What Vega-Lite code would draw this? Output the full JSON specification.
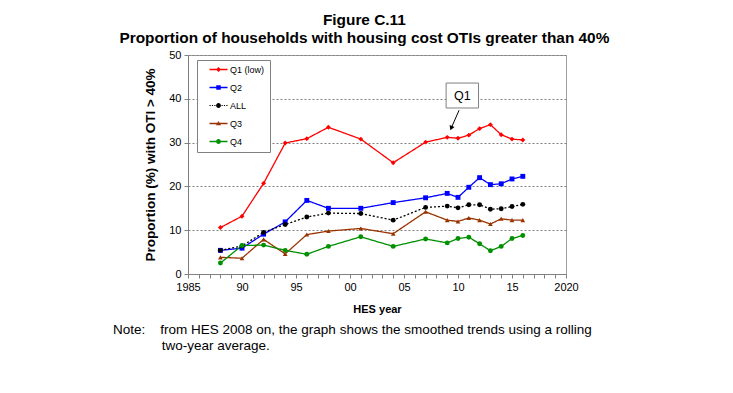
{
  "$schema": "https://vega.github.io/schema/vega-lite/v6.json",
  "background": "white",
  "padding": {"left": 112, "top": 13, "right": 5, "bottom": 5},
  "title": {
    "text": ["Figure C.11", "Proportion of households with housing cost OTIs greater than 40%"],
    "fontSize": 15.4,
    "fontWeight": "bold",
    "font": "Liberation Sans",
    "color": "#000000",
    "lineHeight": 18,
    "anchor": "middle",
    "offset": 2,
    "dx": 12
  },
  "datasets": {
    "series": [
      {"year": 1988, "series": "Q1 (low)", "value": 10.6},
      {"year": 1990, "series": "Q1 (low)", "value": 13.2},
      {"year": 1992, "series": "Q1 (low)", "value": 20.7},
      {"year": 1994, "series": "Q1 (low)", "value": 29.9},
      {"year": 1996, "series": "Q1 (low)", "value": 30.9},
      {"year": 1998, "series": "Q1 (low)", "value": 33.5},
      {"year": 2001, "series": "Q1 (low)", "value": 30.8},
      {"year": 2004, "series": "Q1 (low)", "value": 25.4},
      {"year": 2007, "series": "Q1 (low)", "value": 30.1},
      {"year": 2009, "series": "Q1 (low)", "value": 31.2},
      {"year": 2010, "series": "Q1 (low)", "value": 31.0},
      {"year": 2011, "series": "Q1 (low)", "value": 31.7},
      {"year": 2012, "series": "Q1 (low)", "value": 33.2},
      {"year": 2013, "series": "Q1 (low)", "value": 34.1},
      {"year": 2014, "series": "Q1 (low)", "value": 31.8},
      {"year": 2015, "series": "Q1 (low)", "value": 30.8},
      {"year": 2016, "series": "Q1 (low)", "value": 30.6},
      {"year": 1988, "series": "Q2", "value": 5.4},
      {"year": 1990, "series": "Q2", "value": 5.9},
      {"year": 1992, "series": "Q2", "value": 9.1},
      {"year": 1994, "series": "Q2", "value": 11.9},
      {"year": 1996, "series": "Q2", "value": 16.8},
      {"year": 1998, "series": "Q2", "value": 15.0},
      {"year": 2001, "series": "Q2", "value": 15.0},
      {"year": 2004, "series": "Q2", "value": 16.3},
      {"year": 2007, "series": "Q2", "value": 17.4},
      {"year": 2009, "series": "Q2", "value": 18.4},
      {"year": 2010, "series": "Q2", "value": 17.5},
      {"year": 2011, "series": "Q2", "value": 19.8},
      {"year": 2012, "series": "Q2", "value": 22.0},
      {"year": 2013, "series": "Q2", "value": 20.4},
      {"year": 2014, "series": "Q2", "value": 20.6},
      {"year": 2015, "series": "Q2", "value": 21.7},
      {"year": 2016, "series": "Q2", "value": 22.3},
      {"year": 1988, "series": "ALL", "value": 5.4},
      {"year": 1990, "series": "ALL", "value": 6.4},
      {"year": 1992, "series": "ALL", "value": 9.5},
      {"year": 1994, "series": "ALL", "value": 11.3},
      {"year": 1996, "series": "ALL", "value": 13.0},
      {"year": 1998, "series": "ALL", "value": 13.9},
      {"year": 2001, "series": "ALL", "value": 13.8},
      {"year": 2004, "series": "ALL", "value": 12.3},
      {"year": 2007, "series": "ALL", "value": 15.2},
      {"year": 2009, "series": "ALL", "value": 15.5},
      {"year": 2010, "series": "ALL", "value": 15.1},
      {"year": 2011, "series": "ALL", "value": 15.8},
      {"year": 2012, "series": "ALL", "value": 15.8},
      {"year": 2013, "series": "ALL", "value": 14.8},
      {"year": 2014, "series": "ALL", "value": 14.9},
      {"year": 2015, "series": "ALL", "value": 15.4},
      {"year": 2016, "series": "ALL", "value": 15.9},
      {"year": 1988, "series": "Q3", "value": 3.8},
      {"year": 1990, "series": "Q3", "value": 3.6},
      {"year": 1992, "series": "Q3", "value": 7.9},
      {"year": 1994, "series": "Q3", "value": 4.6},
      {"year": 1996, "series": "Q3", "value": 9.0},
      {"year": 1998, "series": "Q3", "value": 9.8},
      {"year": 2001, "series": "Q3", "value": 10.4},
      {"year": 2004, "series": "Q3", "value": 9.2},
      {"year": 2007, "series": "Q3", "value": 14.2},
      {"year": 2009, "series": "Q3", "value": 12.3},
      {"year": 2010, "series": "Q3", "value": 12.0},
      {"year": 2011, "series": "Q3", "value": 12.8},
      {"year": 2012, "series": "Q3", "value": 12.3},
      {"year": 2013, "series": "Q3", "value": 11.4},
      {"year": 2014, "series": "Q3", "value": 12.6},
      {"year": 2015, "series": "Q3", "value": 12.3},
      {"year": 2016, "series": "Q3", "value": 12.3},
      {"year": 1988, "series": "Q4", "value": 2.5},
      {"year": 1990, "series": "Q4", "value": 6.5},
      {"year": 1992, "series": "Q4", "value": 6.6},
      {"year": 1994, "series": "Q4", "value": 5.4},
      {"year": 1996, "series": "Q4", "value": 4.5},
      {"year": 1998, "series": "Q4", "value": 6.3},
      {"year": 2001, "series": "Q4", "value": 8.5},
      {"year": 2004, "series": "Q4", "value": 6.3},
      {"year": 2007, "series": "Q4", "value": 8.0},
      {"year": 2009, "series": "Q4", "value": 7.1},
      {"year": 2010, "series": "Q4", "value": 8.1},
      {"year": 2011, "series": "Q4", "value": 8.4},
      {"year": 2012, "series": "Q4", "value": 6.9},
      {"year": 2013, "series": "Q4", "value": 5.3},
      {"year": 2014, "series": "Q4", "value": 6.3},
      {"year": 2015, "series": "Q4", "value": 8.1},
      {"year": 2016, "series": "Q4", "value": 8.8}
    ],
    "labelbox": [{"year": 2008.9, "year2": 2011.9, "value": 37.9, "value2": 43.6}],
    "labeltext": [{"year": 2010.4, "value": 40.7, "label": "Q1"}],
    "arrow": [{"year": 2010.1, "value": 37.4, "year2": 2009.37, "value2": 33.3}],
    "arrowhead": [{"year": 2009.37, "value": 33.3}]
  },
  "vconcat": [
    {
      "width": 378,
      "height": 219,
      "title": {
        "text": ["Note:\u00a0\u00a0\u00a0\u00a0from HES 2008 on, the graph shows the smoothed trends using a rolling", "\u200b\u00a0\u00a0\u00a0\u00a0\u00a0\u00a0\u00a0\u00a0\u00a0\u00a0\u00a0\u00a0\u00a0two-year average."],
        "orient": "bottom",
        "anchor": "start",
        "frame": "group",
        "dx": -75,
        "offset": 9,
        "fontSize": 13.5,
        "fontWeight": "normal",
        "font": "Liberation Sans",
        "color": "#000000",
        "lineHeight": 15.5
      },
      "encoding": {
        "x": {
          "field": "year", "type": "quantitative",
          "scale": {"domain": [1985, 2020], "nice": false, "zero": false},
          "axis": {
            "title": "HES year",
            "values": [1985,1986,1987,1988,1989,1990,1991,1992,1993,1994,1995,1996,1997,1998,1999,2000,2001,2002,2003,2004,2005,2006,2007,2008,2009,2010,2011,2012,2013,2014,2015,2016,2017,2018,2019,2020],
            "labelExpr": "datum.value % 5 === 0 ? ((datum.value === 1985 || datum.value === 2020) ? toString(datum.value) : substring(toString(datum.value), 2)) : ''",
            "labelFlush": false,
            "labelOverlap": false,
            "labelBound": false,
            "grid": false,
            "tickSize": 4,
            "tickColor": "#808080",
            "domainColor": "#808080",
            "labelFontSize": 11,
            "labelColor": "#000000",
            "labelPadding": 3,
            "titleFontSize": 11,
            "titleFontWeight": "bold",
            "titleColor": "#000000",
            "titlePadding": 11
          }
        },
        "y": {
          "field": "value", "type": "quantitative",
          "scale": {"domain": [0, 50], "nice": false},
          "axis": {
            "title": "Proportion (%) with OTI > 40%",
            "values": [0, 10, 20, 30, 40, 50],
            "grid": true,
            "gridDash": [2, 2],
            "gridColor": "#808080",
            "tickSize": 4,
            "tickColor": "#808080",
            "domainColor": "#808080",
            "labelFontSize": 11,
            "labelColor": "#000000",
            "labelPadding": 3,
            "titleFontSize": 13.5,
            "titleFontWeight": "bold",
            "titleColor": "#000000",
            "titlePadding": 11
          }
        }
      },
      "layer": [
        {
          "data": {"name": "series"},
          "mark": {"type": "line", "strokeWidth": 1.3},
          "encoding": {
            "detail": {"field": "series"},
            "color": {
              "field": "series", "type": "nominal",
              "scale": {"domain": ["Q1 (low)", "Q2", "ALL", "Q3", "Q4"], "range": ["#ff0000", "#0000ff", "#000000", "#993300", "#009000"]},
              "legend": {
                "orient": "none",
                "legendX": 9,
                "legendY": 5,
                "title": null,
                "padding": 5,
                "strokeColor": "#808080",
                "fillColor": "#ffffff",
                "symbolType": "M-1,-0.22H5V0.22H-1Z",
                "symbolSize": 36,
                "symbolOffset": 6,
                "symbolStrokeWidth": 0,
                "labelOffset": 13,
                "labelFontSize": 9,
                "labelFont": "Liberation Sans",
                "labelColor": "#000000",
                "rowPadding": 8,
                "encode": {
                  "symbols": {
                    "update": {
                      "shape": {"signal": "datum.value === 'Q1 (low)' ? 'M-1,-0.22H5V0.22H-1ZM2,-0.85L2.85,0L2,0.85L1.15,0Z' : datum.value === 'Q2' ? 'M-1,-0.22H5V0.22H-1ZM1.25,-0.75H2.75V0.75H1.25Z' : datum.value === 'ALL' ? 'M-1,-0.2h0.4v0.4h-0.4zM-0.2,-0.2h0.4v0.4h-0.4zM0.6,-0.2h0.4v0.4h-0.4zM3,-0.2h0.4v0.4h-0.4zM3.8,-0.2h0.4v0.4h-0.4zM4.6,-0.2h0.4v0.4h-0.4zM1.2,0A0.8,0.8 0 1,1 2.8,0A0.8,0.8 0 1,1 1.2,0Z' : datum.value === 'Q3' ? 'M-1,-0.22H5V0.22H-1ZM2,-0.85L2.85,0.6H1.15Z' : 'M-1,-0.22H5V0.22H-1ZM1.2,0A0.8,0.8 0 1,1 2.8,0A0.8,0.8 0 1,1 1.2,0Z'"},
                      "fill": {"signal": "datum.value === 'Q1 (low)' ? '#ff0000' : datum.value === 'Q2' ? '#0000ff' : datum.value === 'ALL' ? '#000000' : datum.value === 'Q3' ? '#993300' : '#009000'"},
                      "strokeWidth": {"value": 0},
                      "opacity": {"value": 1}
                    }
                  }
                }
              }
            },
            "strokeDash": {
              "field": "series", "type": "nominal",
              "scale": {"domain": ["Q1 (low)", "Q2", "ALL", "Q3", "Q4"], "range": [[1, 0], [1, 0], [2, 2], [1, 0], [1, 0]]},
              "legend": null
            }
          }
        },
        {
          "data": {"name": "series"},
          "transform": [{"filter": "datum.series === 'Q1 (low)'"}],
          "mark": {"type": "point", "shape": "diamond", "filled": true, "opacity": 1, "size": 24, "strokeWidth": 0, "fill": "#ff0000"},
          "encoding": {}
        },
        {
          "data": {"name": "series"},
          "transform": [{"filter": "datum.series === 'Q2'"}],
          "mark": {"type": "point", "shape": "square", "filled": true, "opacity": 1, "size": 24, "strokeWidth": 0, "fill": "#0000ff"},
          "encoding": {}
        },
        {
          "data": {"name": "series"},
          "transform": [{"filter": "datum.series === 'ALL'"}],
          "mark": {"type": "point", "shape": "circle", "filled": true, "opacity": 1, "size": 24, "strokeWidth": 0, "fill": "#000000"},
          "encoding": {}
        },
        {
          "data": {"name": "series"},
          "transform": [{"filter": "datum.series === 'Q3'"}],
          "mark": {"type": "point", "shape": "triangle-up", "filled": true, "opacity": 1, "size": 22, "strokeWidth": 0, "fill": "#993300"},
          "encoding": {}
        },
        {
          "data": {"name": "series"},
          "transform": [{"filter": "datum.series === 'Q4'"}],
          "mark": {"type": "point", "shape": "circle", "filled": true, "opacity": 1, "size": 24, "strokeWidth": 0, "fill": "#009000"},
          "encoding": {}
        },
        {
          "data": {"name": "labelbox"},
          "mark": {"type": "rect", "fill": "#ffffff", "stroke": "#808080", "strokeWidth": 1},
          "encoding": {
            "x2": {"field": "year2"},
            "y2": {"field": "value2"}
          }
        },
        {
          "data": {"name": "labeltext"},
          "mark": {"type": "text", "fontSize": 12.5, "font": "Liberation Sans", "color": "#000000", "align": "center", "baseline": "middle"},
          "encoding": {
            "text": {"field": "label"}
          }
        },
        {
          "data": {"name": "arrow"},
          "mark": {"type": "rule", "color": "#000000", "strokeWidth": 1},
          "encoding": {
            "x2": {"field": "year2"},
            "y2": {"field": "value2"}
          }
        },
        {
          "data": {"name": "arrowhead"},
          "mark": {"type": "point", "shape": "triangle-down", "filled": true, "color": "#000000", "size": 28, "angle": 22, "opacity": 1},
          "encoding": {}
        }
      ]
    }
  ],
  "config": {
    "font": "Liberation Sans",
    "view": {"stroke": "#a0a0a0"},
    "concat": {"spacing": 0}
  }
}
